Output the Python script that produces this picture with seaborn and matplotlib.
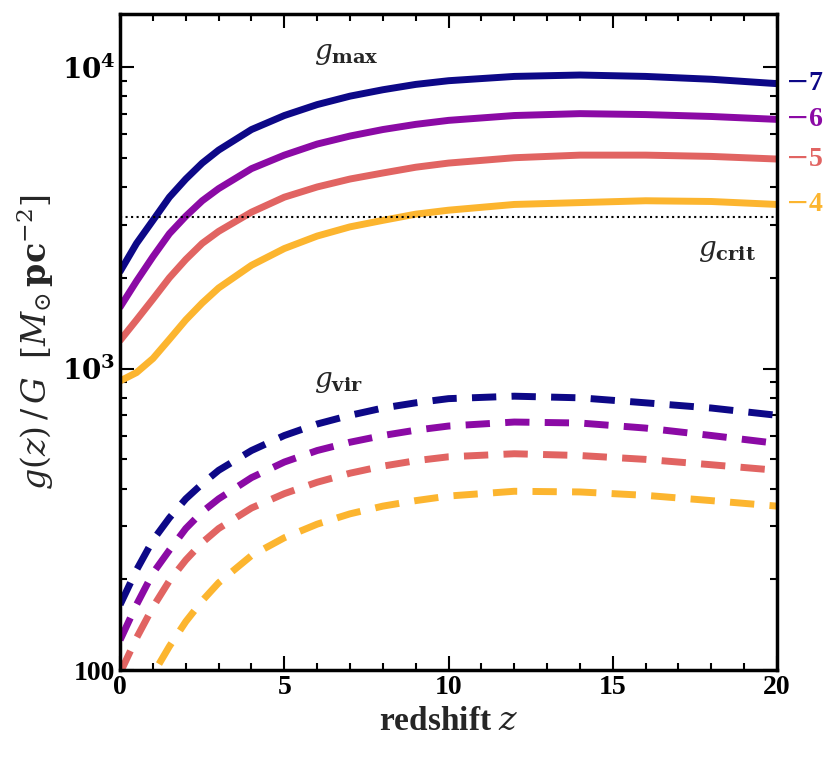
import numpy as np
import pandas as pd
import matplotlib
matplotlib.use("Agg")
import matplotlib.pyplot as plt
import seaborn as sns

sns.set_style("ticks")
plt.rcParams['font.family'] = ['Liberation Serif', 'DejaVu Serif']
plt.rcParams['mathtext.fontset'] = 'dejavuserif'

z = [0, 0.5, 1, 1.5, 2, 2.5, 3, 4, 5, 6, 7, 8, 9, 10, 12, 14, 16, 18, 20]
gmax = {
    "-7": [2100, 2600, 3100, 3700, 4250, 4800, 5300, 6200, 6900, 7500, 8000, 8400, 8750, 9000, 9300, 9400, 9300, 9100, 8800],
    "-6": [1600, 1950, 2350, 2800, 3200, 3600, 3950, 4600, 5100, 5550, 5900, 6200, 6450, 6650, 6900, 7000, 6950, 6850, 6700],
    "-5": [1240, 1450, 1700, 2000, 2300, 2600, 2850, 3300, 3700, 4000, 4250, 4450, 4650, 4800, 5000, 5100, 5100, 5050, 4950],
    "-4": [910, 970, 1080, 1250, 1450, 1650, 1850, 2200, 2500, 2750, 2950, 3100, 3250, 3350, 3500, 3550, 3600, 3580, 3500],
}
gvir = {
    "-7": [165, 215, 270, 320, 370, 415, 460, 535, 600, 655, 700, 740, 770, 795, 810, 800, 770, 740, 700],
    "-6": [126, 165, 210, 250, 295, 335, 370, 435, 490, 535, 570, 600, 625, 645, 665, 660, 635, 600, 565],
    "-5": [98, 128, 162, 198, 232, 265, 295, 345, 385, 420, 450, 475, 495, 510, 522, 515, 500, 480, 460],
    "-4": [62, 80, 97, 120, 145, 170, 195, 240, 275, 305, 330, 350, 365, 378, 392, 390, 380, 365, 350],
}
gcrit = 3180
colors = {"-7": "#0d0887", "-6": "#8b0aa5", "-5": "#e16462", "-4": "#fcb52f"}

fig = plt.figure(figsize=(8.4, 7.66), dpi=100)
ax = fig.add_axes([0.143, 0.125, 0.782, 0.857])

for k in gmax:
    df = pd.DataFrame({"z": z, "g": gmax[k]})
    sns.lineplot(data=df, x="z", y="g", ax=ax, color=colors[k], lw=5)
    dv = pd.DataFrame({"z": z, "g": gvir[k], "s": 0})
    sns.lineplot(data=dv, x="z", y="g", ax=ax, color=colors[k], lw=5,
                 style="s", dashes=[(3.5, 2.2)], legend=False)

ax.axhline(gcrit, color="black", ls=":", lw=1.5)
ax.set_yscale("log")
ax.set_xlim(0, 20)
ax.set_ylim(100, 1.5e4)
trans = matplotlib.transforms.blended_transform_factory(ax.transAxes, ax.transData)
for k in gmax:
    ax.text(1.012, gmax[k][-1], "$-$" + k[1:], transform=trans, color=colors[k],
            fontsize=20, fontweight="bold", va="center", ha="left")

ax.text(5.9, 1.0e4, r"$g_{\mathbf{max}}$", fontsize=20, ha="left", va="bottom")
ax.text(17.6, 2.45e3, r"$g_{\mathbf{crit}}$", fontsize=20, ha="left", va="center")
ax.text(5.9, 820, r"$g_{\mathbf{vir}}$", fontsize=20, ha="left", va="bottom")

ax.set_xlabel(r"redshift $z$", fontsize=24, fontweight="bold")
ax.set_ylabel(r"$g(z)\,/\,G\;\;[M_{\odot}\,\mathbf{pc}^{-2}]$", fontsize=24)
ax.set_xticks([0, 5, 10, 15, 20])
ax.set_yticks([100, 1000, 10000])
ax.set_yticklabels(["100", r"$\mathbf{10^3}$", r"$\mathbf{10^4}$"])
for lab in ax.get_xticklabels() + ax.get_yticklabels():
    lab.set_fontsize(20)
    lab.set_fontweight("bold")
    lab.set_color("black")
ax.xaxis.set_minor_locator(matplotlib.ticker.MultipleLocator(1))
ax.tick_params(which="both", direction="in", top=True, right=True, width=1.5, color="black")
ax.tick_params(which="major", length=10)
ax.tick_params(which="minor", length=5)
for s in ax.spines.values():
    s.set_linewidth(2.5)
    s.set_color("black")
fig.savefig("out.png", dpi=100)
